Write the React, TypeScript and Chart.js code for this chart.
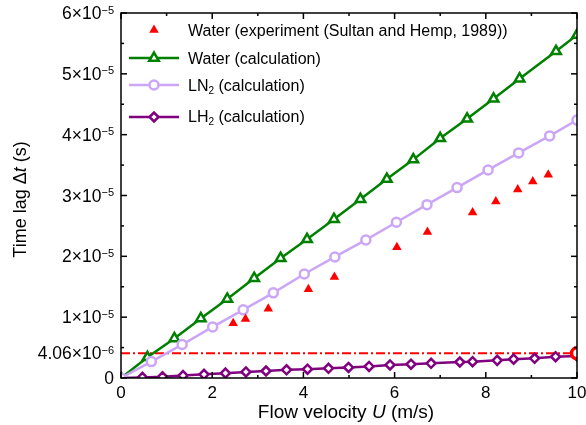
import { useEffect, useRef } from 'react';
import { Chart, registerables } from 'chart.js';
import { drawPoint } from 'chart.js/helpers';

Chart.register(...registerables);

// Water, experiment (Sultan and Hemp, 1989)
const expU = [2.46, 2.73, 3.23, 4.11, 4.68, 6.05, 6.72, 7.71, 8.22, 8.7, 9.03, 9.37];
const expLag = [0.9e-5, 0.97e-5, 1.14e-5, 1.46e-5, 1.66e-5, 2.15e-5, 2.4e-5, 2.72e-5, 2.9e-5, 3.1e-5, 3.23e-5, 3.34e-5];

// Water, calculation
const waterU = [0, 0.58, 1.17, 1.75, 2.33, 2.92, 3.5, 4.08, 4.67, 5.25, 5.83, 6.41, 7.0, 7.59, 8.17, 8.74, 9.54, 10];
const waterLag = [0, 0.34e-5, 0.65e-5, 0.98e-5, 1.3e-5, 1.64e-5, 1.97e-5, 2.28e-5, 2.61e-5, 2.94e-5, 3.27e-5, 3.59e-5, 3.94e-5, 4.26e-5, 4.59e-5, 4.92e-5, 5.37e-5, 5.64e-5];

// LN2, calculation
const ln2U = [0, 0.665, 1.34, 2.01, 2.68, 3.34, 4.02, 4.69, 5.37, 6.04, 6.71, 7.37, 8.05, 8.72, 9.4, 10];
const ln2Lag = [0, 0.27e-5, 0.55e-5, 0.84e-5, 1.12e-5, 1.4e-5, 1.71e-5, 1.99e-5, 2.27e-5, 2.56e-5, 2.85e-5, 3.13e-5, 3.42e-5, 3.7e-5, 3.98e-5, 4.24e-5];

// LH2, calculation
const lh2U = [0, 0.47, 0.91, 1.36, 1.82, 2.29, 2.74, 3.18, 3.63, 4.09, 4.55, 4.99, 5.44, 5.9, 6.36, 6.8, 7.43, 7.71, 8.25, 8.61, 9.07, 9.53, 10];
const lh2Lag = [0, 0.1e-6, 0.2e-6, 0.4e-6, 0.6e-6, 0.8e-6, 1.0e-6, 1.15e-6, 1.35e-6, 1.45e-6, 1.6e-6, 1.73e-6, 1.9e-6, 2.14e-6, 2.27e-6, 2.42e-6, 2.63e-6, 2.68e-6, 2.9e-6, 3.1e-6, 3.24e-6, 3.5e-6, 3.6e-6];

// LH2 time lag at U = 10 m/s
const lagMarkU = 10;
const lagMark = 4.06e-6;

// Axis ticks
const xTickValues = [0, 2, 4, 6, 8, 10];
const xTickLabels = ['0', '2', '4', '6', '8', '10'];
const xMinorValues = [1, 3, 5, 7, 9];
const yTickValues = [0, 4.06e-6, 1e-5, 2e-5, 3e-5, 4e-5, 5e-5, 6e-5];
const yTickMantissa = ['0', '4.06', '1', '2', '3', '4', '5', '6'];
const yTickExponent = ['', '−6', '−5', '−5', '−5', '−5', '−5', '−5'];
const yMajorValues = [0, 1e-5, 2e-5, 3e-5, 4e-5, 5e-5, 6e-5];
const yMinorValues = [0.5e-5, 1.5e-5, 2.5e-5, 3.5e-5, 4.5e-5, 5.5e-5];

const FONT = '"Liberation Sans", Arial, Helvetica, sans-serif';
const GREEN = '#008000';
const LAVENDER = '#CBA6F6';
const PURPLE = '#800080';
const RED = '#FF0000';

type Part = { text: string; size: number; italic?: boolean; dy?: number };

function drawParts(ctx: CanvasRenderingContext2D, parts: Part[], x: number, y: number, align: 'left' | 'right' | 'center') {
  const fontOf = (p: Part) => `${p.italic ? 'italic ' : ''}${p.size}px ${FONT}`;
  let total = 0;
  const widths = parts.map((p) => {
    ctx.font = fontOf(p);
    const w = ctx.measureText(p.text).width;
    total += w;
    return w;
  });
  let cx = align === 'left' ? x : align === 'right' ? x - total : x - total / 2;
  ctx.textAlign = 'left';
  ctx.textBaseline = 'alphabetic';
  parts.forEach((p, i) => {
    ctx.font = fontOf(p);
    ctx.fillText(p.text, cx, y + (p.dy || 0));
    cx += widths[i];
  });
}

const pts = (xs: number[], ys: number[]) => xs.map((x, i) => ({ x, y: ys[i] }));

type LegendRow = { parts: Part[]; color: string; style: string; line: boolean; fill: string; radius: number; markerY: number; textY: number };
const legendRows: LegendRow[] = [
  { parts: [{ text: 'Water (experiment (Sultan and Hemp, 1989))', size: 16 }], color: RED, style: 'triangle', line: false, fill: RED, radius: 5.5, markerY: 30, textY: 36 },
  { parts: [{ text: 'Water (calculation)', size: 16 }], color: GREEN, style: 'triangle', line: true, fill: '#fff', radius: 5.5, markerY: 58, textY: 64 },
  { parts: [{ text: 'LN', size: 16 }, { text: '2', size: 10, dy: 3 }, { text: ' (calculation)', size: 16 }], color: LAVENDER, style: 'circle', line: true, fill: '#fff', radius: 4.5, markerY: 85, textY: 91 },
  { parts: [{ text: 'LH', size: 16 }, { text: '2', size: 10, dy: 3 }, { text: ' (calculation)', size: 16 }], color: PURPLE, style: 'rectRot', line: true, fill: '#fff', radius: 4.5, markerY: 117, textY: 122 },
];

const axesPlugin = {
  id: 'boxedAxes',
  afterDatasetsDraw(chart: any) {
    const { ctx, chartArea: a, scales } = chart;
    const xs = scales.x;
    const ys = scales.y;
    ctx.save();
    ctx.strokeStyle = '#000';
    ctx.lineWidth = 1.5;
    ctx.strokeRect(a.left, a.top, a.right - a.left, a.bottom - a.top);

    const seg = (x1: number, y1: number, x2: number, y2: number) => {
      ctx.beginPath();
      ctx.moveTo(x1, y1);
      ctx.lineTo(x2, y2);
      ctx.stroke();
    };
    const xTick = (v: number, len: number) => {
      const px = xs.getPixelForValue(v);
      seg(px, a.bottom, px, a.bottom - len);
      seg(px, a.top, px, a.top + len);
    };
    const yTick = (v: number, len: number) => {
      const py = ys.getPixelForValue(v);
      seg(a.left, py, a.left + len, py);
      seg(a.right, py, a.right - len, py);
    };
    xTickValues.forEach((v) => xTick(v, 6));
    xMinorValues.forEach((v) => xTick(v, 3));
    yMajorValues.forEach((v) => yTick(v, 6));
    yMinorValues.forEach((v) => yTick(v, 3));

    ctx.fillStyle = '#000';
    // x tick labels
    xTickValues.forEach((v, i) => {
      drawParts(ctx, [{ text: xTickLabels[i], size: 17 }], xs.getPixelForValue(v), a.bottom + 20, 'center');
    });
    // y tick labels
    yTickValues.forEach((v, i) => {
      const py = ys.getPixelForValue(v);
      const parts: Part[] = yTickExponent[i]
        ? [{ text: yTickMantissa[i] + '×10', size: 17.5 }, { text: yTickExponent[i], size: 11, dy: -5.5 }]
        : [{ text: yTickMantissa[i], size: 17.5 }];
      drawParts(ctx, parts, a.left - 7, py + 6, 'right');
    });

    // axis titles
    drawParts(
      ctx,
      [{ text: 'Flow velocity ', size: 19 }, { text: 'U', size: 19, italic: true }, { text: ' (m/s)', size: 19 }],
      (a.left + a.right) / 2 - 3,
      418,
      'center'
    );
    ctx.save();
    ctx.translate(26, (a.top + a.bottom) / 2 + 4);
    ctx.rotate(-Math.PI / 2);
    drawParts(
      ctx,
      [{ text: 'Time lag Δ', size: 18 }, { text: 't', size: 18, italic: true }, { text: ' (s)', size: 18 }],
      0,
      0,
      'center'
    );
    ctx.restore();

    // legend
    const lx1 = a.left + 8;
    const lx2 = a.left + 58;
    const mx = a.left + 33;
    legendRows.forEach((row) => {
      if (row.line) {
        ctx.strokeStyle = row.color;
        ctx.lineWidth = 2.5;
        seg(lx1, row.markerY, lx2, row.markerY);
      }
      ctx.strokeStyle = row.color;
      ctx.fillStyle = row.fill;
      drawPoint(ctx, {
        pointStyle: row.style as any,
        rotation: 0,
        radius: row.radius,
        borderWidth: row.line ? 2.5 : 0,
      }, mx, row.markerY);
      ctx.fillStyle = '#000';
      drawParts(ctx, row.parts, a.left + 67, row.textY, 'left');
    });
    ctx.restore();
  },
};

export default function App() {
  const ref = useRef<HTMLCanvasElement>(null);

  useEffect(() => {
    document.body.style.margin = '0';
    const chart = new Chart(ref.current!, {
      type: 'line',
      data: {
        datasets: [
          {
            label: 'Water (experiment (Sultan and Hemp, 1989))',
            data: pts(expU, expLag),
            showLine: false,
            borderWidth: 0,
            pointStyle: 'triangle',
            pointRadius: 5.5,
            pointBorderWidth: 0,
            pointBackgroundColor: RED,
            pointBorderColor: RED,
            order: 1,
          },
          {
            label: 'Water (calculation)',
            data: pts(waterU, waterLag),
            borderColor: GREEN,
            borderWidth: 2.5,
            pointStyle: 'triangle',
            pointRadius: 5.5,
            pointBorderWidth: 2.5,
            pointBackgroundColor: '#fff',
            pointBorderColor: GREEN,
            order: 3,
          },
          {
            label: 'LN2 (calculation)',
            data: pts(ln2U, ln2Lag),
            borderColor: LAVENDER,
            borderWidth: 2.5,
            pointStyle: 'circle',
            pointRadius: 4.5,
            pointBorderWidth: 2.5,
            pointBackgroundColor: '#fff',
            pointBorderColor: LAVENDER,
            order: 2,
          },
          {
            label: 'LH2 (calculation)',
            data: pts(lh2U, lh2Lag),
            borderColor: PURPLE,
            borderWidth: 2.5,
            pointStyle: 'rectRot',
            pointRadius: 4.5,
            pointBorderWidth: 2.5,
            pointBackgroundColor: '#fff',
            pointBorderColor: PURPLE,
            order: 2,
          },
          {
            label: 'threshold',
            data: [{ x: 0, y: lagMark }, { x: 10, y: lagMark }],
            borderColor: RED,
            borderWidth: 2,
            borderDash: [9, 3, 2, 3],
            pointRadius: 0,
            order: 5,
          },
          {
            label: 'mark',
            data: [{ x: lagMarkU, y: lagMark }],
            showLine: false,
            borderWidth: 0,
            pointStyle: 'circle',
            pointRadius: 5.5,
            pointBorderWidth: 3.5,
            pointBackgroundColor: '#fff',
            pointBorderColor: RED,
            order: 0,
          },
        ],
      },
      options: {
        animation: false,
        responsive: false,
        events: [],
        layout: { padding: { left: 121, right: 9, top: 13, bottom: 47 } },
        scales: {
          x: { type: 'linear', min: 0, max: 10, display: false },
          y: { type: 'linear', min: 0, max: 6e-5, display: false },
        },
        plugins: { legend: { display: false }, tooltip: { enabled: false } },
      },
      plugins: [axesPlugin],
    });
    return () => chart.destroy();
  }, []);

  return <canvas ref={ref} width={586} height={425} style={{ display: 'block' }} />;
}
